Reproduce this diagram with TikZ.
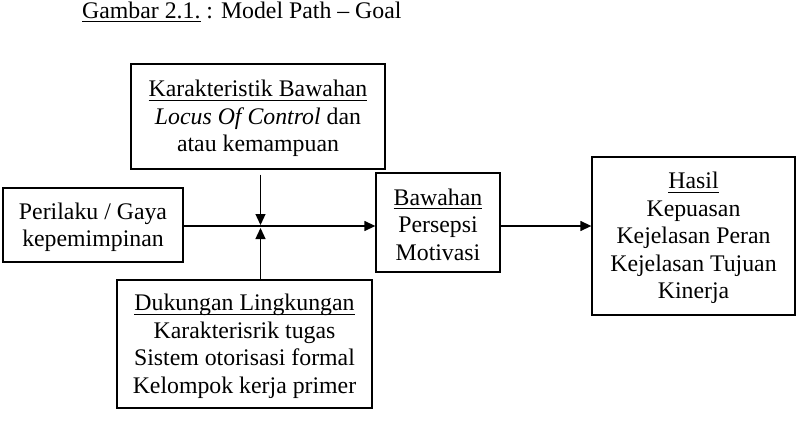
\documentclass[tikz,border=0pt]{standalone}
\usepackage{fontspec}
\setmainfont{Liberation Serif}
\usetikzlibrary{arrows.meta,positioning,calc}
\newcommand\uln[1]{\setbox0\hbox{#1}\rlap{\rule[-4pt]{\wd0}{1.2pt}}\box0\relax}
\newcommand\topln{\rule{0pt}{21pt}}
\tikzset{
  font=\fontsize{23.8}{27.5}\selectfont,
  box/.style ={draw, line width=1.3pt, align=center, inner sep=0pt},
  arr/.style ={-{Triangle[length=11pt,width=10pt]}, line width=1.3pt},
  ttl/.style ={anchor=base west, inner sep=0pt},
}
\begin{document}
\begin{tikzpicture}[x=1pt,y=-1pt]
  \useasboundingbox (0,0) rectangle (798,428);
  \node[ttl] (title) at (82,18.5) {\uln{Gambar 2.1.} : Model Path -- Goal};
  % blocks
  \node[box, minimum width=254pt, minimum height=105pt] (karakter) at (258,116.5)
    {\topln\uln{Karakteristik Bawahan}\\ \textit{Locus Of Control} dan\\ atau kemampuan};
  \node[box, minimum width=180pt, minimum height=74pt] (perilaku) at (93,225)
    {\topln Perilaku / Gaya\\ kepemimpinan};
  \node[box, minimum width=124pt, minimum height=99pt] (bawahan) at (438,222.5)
    {\topln\uln{Bawahan}\\ Persepsi\\ Motivasi};
  \node[box, minimum width=203pt, minimum height=158pt] (hasil) at (693.5,236)
    {\topln\uln{Hasil}\\ Kepuasan\\ Kejelasan Peran\\ Kejelasan Tujuan\\ Kinerja};
  \node[box, minimum width=255pt, minimum height=128pt] (dukungan) at (244.5,344)
    {\topln\uln{Dukungan Lingkungan}\\ Karakterisrik tugas\\ Sistem otorisasi formal\\ Kelompok kerja primer};
  \coordinate (mid) at (260.5,226);
  % arrows
  \draw[arr] (perilaku.east |- mid) -- (bawahan.west |- mid);
  \draw[arr] ([yshift=-5pt]karakter.south -| mid) -- ([yshift=1pt]mid);
  \draw[arr] (dukungan.north -| mid) -- ([yshift=-2pt]mid);
  \draw[arr] (bawahan.east |- mid) -- (hasil.west |- mid);
\end{tikzpicture}
\end{document}
